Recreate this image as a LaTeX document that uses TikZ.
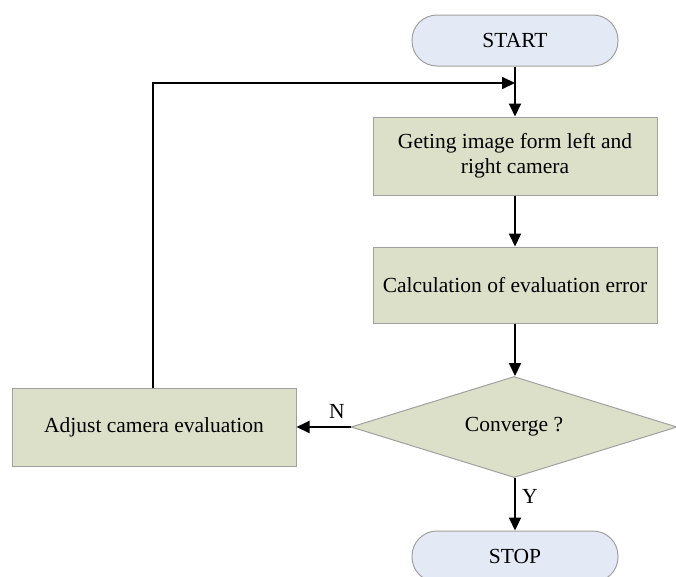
\documentclass[tikz,border=0pt]{standalone}
\usepackage{fontspec}
\setmainfont{Liberation Serif}
\usetikzlibrary{shapes.geometric,arrows.meta}
\definecolor{boxfill}{RGB}{221,224,201}
\definecolor{termfill}{RGB}{228,234,245}
\definecolor{edge}{RGB}{160,160,160}
\tikzset{
  procbox/.style={draw=edge, line width=1pt, fill=boxfill, rectangle, inner sep=0pt, align=center, font=\fontsize{21.5}{25}\selectfont},
  term/.style={draw=edge, line width=1pt, fill=termfill, rectangle, rounded corners=25pt, minimum width=206pt, minimum height=51pt, inner sep=0pt, font=\fontsize{21.5}{25}\selectfont},
  decide/.style={draw=edge, line width=1pt, fill=boxfill, diamond, aspect=3.2, minimum width=326pt, minimum height=101pt, inner sep=0pt, font=\fontsize{21.5}{25}\selectfont},
  flow/.style={line width=2pt, -{Triangle[length=13pt,width=12pt]}},
  lbl/.style={font=\fontsize{21.5}{25}\selectfont, inner sep=0pt}
}
\begin{document}
\begin{tikzpicture}[x=1pt,y=-1pt]
\useasboundingbox (0,0) rectangle (676,576);
\clip (0,0) rectangle (676,576);
\node[term] (start) at (515,40.5) {START};
\node[procbox, minimum width=284pt, minimum height=78pt] (get) at (515,156) {Geting image form left and\\right camera};
\node[procbox, minimum width=284pt, minimum height=76pt] (calc) at (515,285) {Calculation of evaluation error};
\node[decide] (conv) at (514,427) {Converge ?};
\node[procbox, minimum width=284pt, minimum height=78pt] (adj) at (154,427) {Adjust camera evaluation};
\node[term] (stop) at (515,556.5) {STOP};
\coordinate (corner) at (153,83);
\coordinate (join) at (515,83);
\draw[flow] (start.south) -- (get.north);
\draw[flow] (get.south) -- (calc.north);
\draw[flow] (calc.south) -- (calc.south |- conv.north);
\draw[flow] (calc.south |- conv.south) -- node[lbl, right=6pt, pos=0.35] (y) {Y} (stop.north);
\draw[flow] (conv.west) -- node[lbl, above=8pt, pos=0.25] (n) {N} (adj.east);
\draw[flow] (adj.north -| corner) -- (corner) -- (join);
\end{tikzpicture}
\end{document}
